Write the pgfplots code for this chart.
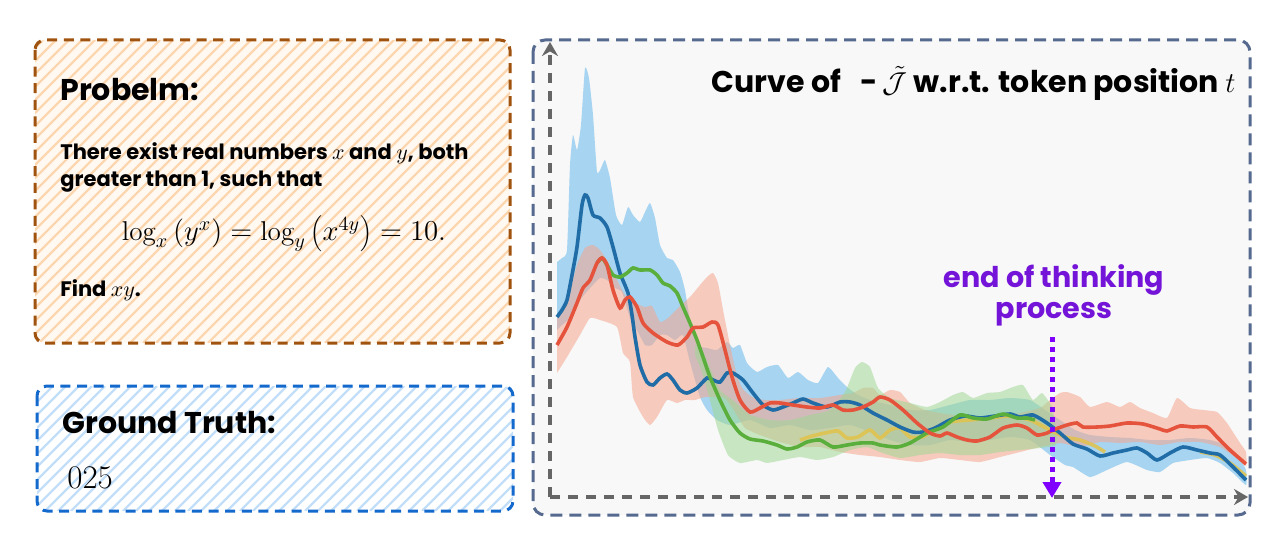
\documentclass[border=0pt]{standalone}
\usepackage{fontspec}
\usepackage{pgfplots}
\pgfplotsset{compat=1.18}
\usetikzlibrary{arrows.meta}
\newfontfamily\gs{Poppins}
\definecolor{brownB}{HTML}{A0520F}
\definecolor{stripeO}{HTML}{FBD6AE}
\definecolor{bgO}{HTML}{FFF9F2}
\definecolor{blueB}{HTML}{1469CD}
\definecolor{stripeB}{HTML}{C2DEF8}
\definecolor{chartB}{HTML}{56698F}
\definecolor{chartBg}{HTML}{F8F8F8}
\definecolor{axgray}{HTML}{666666}
\definecolor{purp}{HTML}{7F00FF}
\definecolor{purptext}{HTML}{7414D8}
\definecolor{lblue}{HTML}{1F6CA6}
\definecolor{lred}{HTML}{E5533D}
\definecolor{lgreen}{HTML}{5AAE3C}
\definecolor{lyellow}{HTML}{E2C24A}
\definecolor{bblue}{HTML}{8CC8EE}
\definecolor{bred}{HTML}{F5A58C}
\definecolor{bgreen}{HTML}{9FD894}
\begin{document}
\begin{tikzpicture}
\begin{scope}[x=0.5pt,y=-0.5pt]
\fill[white] (0,0) rectangle (1270,540);
% ---------- problem box
\begin{scope}
\clip[rounded corners=5pt] (35,40) rectangle (510,343);
\fill[bgO] (35,40) rectangle (510,343);
\foreach \c in {70,83,...,860} \draw[stripeO, line width=1.2pt] ({\c-343},343) -- ({\c-40},40);
\end{scope}
\draw[brownB, line width=1.5pt, dash pattern=on 5pt off 3.3pt, rounded corners=5pt] (35,40) rectangle (510,343);
\node[anchor=base west, inner sep=0] at (60,101) {\gs\bfseries\fontsize{15}{18}\selectfont Probelm:};
\node[anchor=base west, inner sep=0] at (60,160) {\gs\bfseries\fontsize{10.5}{13}\selectfont There exist real numbers $x$ and $y$, both};
\node[anchor=base west, inner sep=0] at (60,187) {\gs\bfseries\fontsize{10.5}{13}\selectfont greater than 1, such that};
\node[anchor=base, inner sep=0] at (284,241) {\fontsize{13.6}{16}\selectfont $\log_x\left(y^x\right)=\log_y\left(x^{4y}\right)=10.$};
\node[anchor=base west, inner sep=0] at (60,296) {\gs\bfseries\fontsize{10.5}{13}\selectfont Find $xy$.};
% ---------- ground truth box
\begin{scope}
\clip[rounded corners=5pt] (37,386) rectangle (513,511);
\fill[white] (37,386) rectangle (513,511);
\foreach \c in {400,413,...,1040} \draw[stripeB, line width=1.1pt] ({\c-511},511) -- ({\c-386},386);
\end{scope}
\draw[blueB, line width=1.5pt, dash pattern=on 5pt off 3.3pt, rounded corners=5pt] (37,386) rectangle (513,511);
\node[anchor=base west, inner sep=0] at (62,433) {\gs\bfseries\fontsize{15}{18}\selectfont Ground Truth:};
\node[anchor=base west, inner sep=0] at (67,488) {\fontsize{16.5}{19}\selectfont 025};
% ---------- chart background
\fill[chartBg, rounded corners=5pt] (533,40) rectangle (1250,515);
\end{scope}
\begin{axis}[at={(266.5pt,-257.5pt)}, anchor=south west, scale only axis,
  width=358.5pt, height=237.5pt, xmin=533, xmax=1250, ymin=40, ymax=515,
  y dir=reverse, axis lines=none, clip=true]
% bands
\addplot[fill=bblue, fill opacity=0.75, draw=none, smooth, tension=0.3] coordinates {
(557,262) (562,258) (567,250) (570,165) (573,135) (577,150) (581,125) (585,68) (589,78) (593,115) (597,172) (601,168) (605,160) (610,178) (616,215) (622,225) (628,207) (633,215) (640,222) (645,212) (650,203) (655,218) (660,245) (667,258) (673,260) (680,272) (685,290) (690,320) (697,345) (707,348) (717,350) (727,342) (733,348) (740,345) (747,363) (757,372) (767,367) (778,365) (788,378) (798,372) (808,380) (818,383) (828,367) (838,378) (848,388) (858,395) (870,400) (890,405) (910,410) (930,410) (950,405) (970,400) (990,400) (1010,398) (1030,400) (1045,410) (1060,420) (1075,430) (1090,435) (1110,437) (1130,438) (1150,440) (1170,440) (1190,438) (1210,440) (1225,445) (1240,460) (1246,470)
(1246,485) (1233,473) (1220,463) (1207,458) (1190,460) (1173,463) (1160,472) (1147,470) (1127,462) (1107,470) (1090,477) (1073,467) (1065,465) (1050,455) (1030,440) (1010,437) (990,440) (970,442) (950,440) (930,445) (910,445) (890,440) (870,432) (850,425) (830,428) (810,430) (790,425) (770,428) (750,420) (730,425) (717,420) (707,410) (700,397) (690,362) (683,335) (675,340) (667,335) (660,335) (652,345) (645,345) (637,330) (630,318) (622,292) (615,288) (607,280) (600,278) (590,288) (580,300) (570,318) (562,325) (557,330)} -- cycle;
\addplot[fill=bred, fill opacity=0.55, draw=none, smooth, tension=0.3] coordinates {
(557,318) (567,300) (577,265) (585,248) (593,245) (600,250) (608,262) (617,280) (625,295) (635,303) (645,307) (652,306) (660,322) (668,318) (678,308) (690,297) (700,285) (707,277) (713,273) (718,283) (724,315) (730,345) (736,372) (742,388) (752,397) (765,400) (780,400) (800,398) (820,398) (840,395) (853,393) (863,388) (873,388) (880,395) (890,390) (900,392) (910,403) (925,410) (940,413) (960,416) (980,418) (1000,417) (1020,413) (1040,408) (1050,400) (1060,393) (1067,392) (1080,397) (1090,407) (1107,402) (1120,407) (1130,402) (1140,408) (1153,413) (1167,418) (1177,398) (1190,408) (1203,410) (1217,412) (1227,423) (1240,443) (1246,452)
(1246,466) (1235,457) (1220,447) (1200,442) (1180,442) (1160,445) (1140,442) (1120,443) (1100,442) (1080,447) (1060,443) (1040,447) (1020,452) (1000,457) (980,462) (960,460) (940,458) (920,462) (900,460) (880,457) (860,455) (840,452) (820,447) (800,447) (780,442) (760,435) (745,428) (735,412) (725,398) (715,397) (705,397) (695,400) (685,400) (677,403) (667,400) (657,417) (650,425) (643,417) (633,397) (630,362) (623,353) (617,327) (600,320) (590,318) (580,335) (567,357) (557,373)} -- cycle;
\addplot[fill=bgreen, fill opacity=0.55, draw=none, smooth, tension=0.3] coordinates {
(695,345) (702,350) (710,368) (720,390) (735,402) (750,415) (770,420) (790,420) (810,415) (830,410) (845,392) (855,368) (862,362) (870,367) (878,388) (890,398) (910,403) (927,407) (940,402) (953,395) (963,392) (973,398) (987,393) (1000,392) (1013,387) (1023,385) (1033,400) (1042,393) (1052,407) (1056,430)
(1056,445) (1040,448) (1020,450) (1000,452) (980,455) (960,455) (940,453) (920,455) (900,458) (880,452) (867,447) (850,450) (833,457) (817,460) (800,457) (783,460) (767,463) (757,460) (740,463) (728,455) (718,430) (710,400) (702,372) (695,355)} -- cycle;
% lines
\addplot[lyellow, line width=1.8pt, opacity=0.85, smooth, tension=0.4] coordinates {
(800,440) (812,436) (825,433) (838,431) (847,438) (858,437) (870,430) (880,438) (890,430) (900,428) (910,437) (922,437) (935,430) (950,422) (970,420) (990,418) (1010,416) (1030,420) (1050,430) (1065,437) (1080,440) (1095,446) (1105,452)};
\addplot[lyellow, line width=1.8pt, opacity=0.85, smooth, tension=0.4] coordinates {
(1200,452) (1215,455) (1230,463) (1246,476)};
\addplot[lblue, line width=1.8pt, smooth, tension=0.4] coordinates {
(557,317) (562,310) (567,300) (572,275) (577,247) (582,205) (585,195) (588,198) (593,215) (600,218) (607,227) (613,247) (620,273) (628,293) (632,315) (635,337) (640,365) (647,382) (653,385) (660,378) (667,374) (673,380) (680,390) (687,393) (697,388) (707,378) (713,380) (720,382) (727,373) (733,373) (743,380) (753,393) (763,405) (773,410) (783,407) (793,403) (803,399) (813,403) (827,407) (840,402) (850,402) (860,405) (873,413) (887,420) (900,427) (913,432) (923,432) (935,428) (950,420) (965,416) (980,418) (995,416) (1010,414) (1020,417) (1033,415) (1047,423) (1060,433) (1073,444) (1087,449) (1100,456) (1113,453) (1127,450) (1137,448) (1147,453) (1157,460) (1170,453) (1183,447) (1197,450) (1210,453) (1220,455) (1233,467) (1246,480)};
\addplot[lgreen, line width=1.8pt, smooth, tension=0.4] coordinates {
(597,263) (602,258) (607,265) (613,275) (620,277) (627,273) (633,268) (640,270) (650,270) (657,275) (663,283) (670,286) (677,293) (683,307) (690,323) (697,340) (703,357) (710,377) (720,400) (730,420) (740,433) (750,439) (763,441) (777,445) (787,449) (797,447) (807,442) (820,440) (833,447) (847,445) (860,443) (873,443) (880,445) (897,447) (910,443) (927,433) (943,427) (960,415) (973,418) (987,419) (1003,414) (1017,418) (1027,418) (1035,420)};
\addplot[lred, line width=1.8pt, smooth, tension=0.4] coordinates {
(557,345) (567,327) (577,303) (583,288) (590,280) (597,263) (602,258) (607,265) (613,290) (620,308) (625,300) (630,297) (637,307) (643,323) (653,333) (667,342) (678,345) (687,337) (693,328) (703,327) (712,322) (718,325) (725,350) (732,377) (740,400) (750,412) (760,408) (770,403) (780,403) (793,405) (807,407) (820,408) (833,405) (843,410) (853,410) (863,407) (873,402) (880,397) (890,400) (903,410) (917,423) (930,433) (940,436) (947,433) (957,437) (967,440) (977,441) (990,437) (1003,428) (1017,425) (1027,428) (1037,435) (1047,433) (1053,430) (1067,425) (1077,423) (1083,427) (1097,427) (1110,426) (1127,423) (1143,424) (1160,429) (1167,431) (1180,426) (1193,427) (1207,427) (1217,437) (1230,450) (1246,464)};
\end{axis}
\begin{scope}[x=0.5pt,y=-0.5pt]
\draw[axgray, line width=2pt, dash pattern=on 5pt off 4pt, -{Stealth[length=7pt, width=8pt]}] (550,497) -- (550,42);
\draw[axgray, line width=2pt, dash pattern=on 5pt off 4pt, -{Stealth[length=7pt, width=8pt]}] (550,497) -- (1248,497);
\node[anchor=base east, inner sep=0] at (1236,93) {\gs\bfseries\fontsize{15}{18}\selectfont Curve of\ \ \ -\,$\tilde{\mathcal{J}}$\ w.r.t. token position $t$};
\node[anchor=base, inner sep=0, text=purptext] at (1054,287) {\gs\bfseries\fontsize{14.3}{16}\selectfont end of thinking};
\node[anchor=base, inner sep=0, text=purptext] at (1054,318) {\gs\bfseries\fontsize{14.3}{16}\selectfont process};
\draw[purp, line width=2.5pt, dash pattern=on 2.5pt off 2.5pt, -{Triangle[length=8pt,width=9pt]}] (1052,337) -- (1052,498);
\draw[chartB, line width=1.5pt, dash pattern=on 6pt off 3.5pt, rounded corners=6pt] (533,40) rectangle (1250,515);
\end{scope}
\end{tikzpicture}
\end{document}
